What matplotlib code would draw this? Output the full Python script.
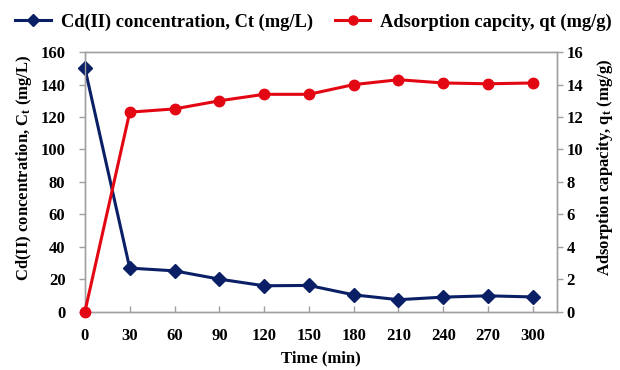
import matplotlib
matplotlib.use("Agg")
import matplotlib.pyplot as plt
from matplotlib.lines import Line2D

# Contact time (min)
time_min = [0, 30, 60, 90, 120, 150, 180, 210, 240, 270, 300]
# Residual Cd(II) concentration (mg/L)
ct = [150.0, 26.8, 25.1, 20.0, 15.9, 16.1, 10.3, 7.3, 8.9, 9.7, 9.0]
# Adsorption capacity (mg/g)
qt = [0.0, 12.3, 12.5, 13.0, 13.4, 13.4, 14.0, 14.3, 14.1, 14.05, 14.1]

x_ticks = [0, 30, 60, 90, 120, 150, 180, 210, 240, 270, 300]
left_ticks = [0, 20, 40, 60, 80, 100, 120, 140, 160]
right_ticks = [0, 2, 4, 6, 8, 10, 12, 14, 16]

navy = "#0a1f66"
red = "#e30613"
spine_col = "#a0a0a0"

plt.rcParams["font.family"] = ["Liberation Serif", "DejaVu Serif"]
plt.rcParams["font.weight"] = "bold"
plt.rcParams["mathtext.fontset"] = "custom"
plt.rcParams["mathtext.rm"] = "Liberation Serif:bold"
plt.rcParams["mathtext.bf"] = "Liberation Serif:bold"
plt.rcParams["mathtext.it"] = "Liberation Serif:bold"

fig = plt.figure(figsize=(6.2, 3.7), dpi=100)
ax = fig.add_axes([0.137, 0.158, 0.761, 0.701])
ax2 = ax.twinx()

ax.plot(time_min, ct, color=navy, lw=2.2, marker="D", ms=7, zorder=3,
        clip_on=False)
ax2.plot(time_min, qt, color=red, lw=2.2, marker="o", ms=7.5, zorder=3,
         clip_on=False)

ax.set_xlim(0, 316)
ax.set_ylim(0, 160)
ax2.set_ylim(0, 16)
ax.set_xticks(x_ticks)
ax.set_yticks(left_ticks)
ax2.set_yticks(right_ticks)

for a in (ax, ax2):
    for s in a.spines.values():
        s.set_color(spine_col)
        s.set_linewidth(1.0)
        s.set_zorder(1)
    a.tick_params(colors="black", labelsize=12, width=1.0, length=4)

ax.tick_params(axis="x", direction="in", color=spine_col, pad=12)
ax.tick_params(axis="y", direction="out", color=spine_col, pad=10)
ax2.tick_params(axis="y", direction="out", color=spine_col, pad=3)
for lab in ax.get_xticklabels() + ax.get_yticklabels() + ax2.get_yticklabels():
    lab.set_fontweight("bold")

ax.set_xlabel("Time (min)", fontsize=12, fontweight="bold")
ax.set_ylabel(r"Cd(II) concentration, C$_\mathbf{t}$ (mg/L)", fontsize=12,
              fontweight="bold")
ax2.set_ylabel(r"Adsorption capacity, q$_\mathbf{t}$ (mg/g)", fontsize=12,
               fontweight="bold")
ax.xaxis.set_label_coords(0.5, -0.15)
ax.yaxis.set_label_coords(-0.107, 0.554)
ax2.yaxis.set_label_coords(1.08, 0.554)

handles = [
    Line2D([], [], color=navy, lw=2.2, marker="D", ms=6),
    Line2D([], [], color=red, lw=2.2, marker="o", ms=6.5),
]
labels = ["Cd(II) concentration, Ct (mg/L)", "Adsorption capcity, qt (mg/g)"]
fig.legend(handles, labels, loc="center", bbox_to_anchor=(0.506, 0.94),
           ncol=2, frameon=False, prop={"size": 13.3, "weight": "bold"},
           handlelength=1.9, columnspacing=1.2, handletextpad=0.55,
           borderpad=0, borderaxespad=0)

fig.savefig("out.png", dpi=100)
